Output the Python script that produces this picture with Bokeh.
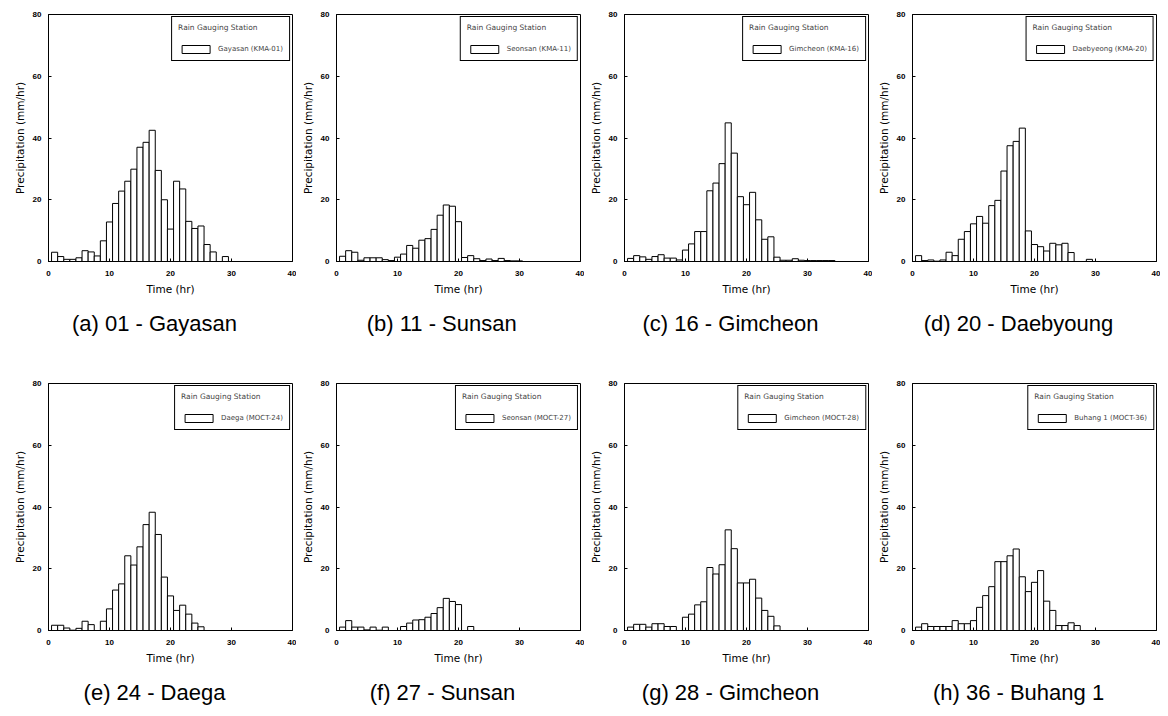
from bokeh.plotting import figure
from bokeh.models import Title, Range1d, FixedTicker
from bokeh.layouts import column, row
from bokeh.embed import file_html
from bokeh.resources import INLINE

# hourly precipitation (mm/hr), hours 1..N
gayasan_kma01 = [3.0, 1.6, 0.7, 0.7, 1.2, 3.5, 3.1, 1.8, 6.7, 12.8, 18.8, 22.8, 26.0, 29.9, 37.0, 38.6,
                 42.5, 29.5, 20.0, 10.5, 26.0, 23.5, 13.0, 10.7, 11.5, 5.5, 3.1, 0.0, 1.6]
seonsan_kma11 = [1.7, 3.5, 3.0, 0.4, 1.2, 1.2, 1.2, 0.6, 0.3, 1.4, 2.4, 5.2, 4.3, 6.9, 7.4, 10.4,
                 15.0, 18.3, 17.9, 12.9, 1.3, 1.9, 0.9, 0.3, 0.8, 0.3, 1.0, 0.3, 0.2, 0.2]
gimcheon_kma16 = [1.0, 1.9, 1.5, 0.7, 1.6, 2.2, 1.1, 1.1, 0.5, 3.7, 5.7, 9.7, 9.7, 22.9, 25.4, 31.7,
                  44.9, 35.1, 21.0, 18.4, 22.4, 13.5, 7.2, 8.0, 1.4, 0.4, 0.4, 0.9, 0.4, 0.3, 0.3,
                  0.3, 0.3, 0.3]
daebyeong_kma20 = [1.9, 0.3, 0.5, 0.1, 0.5, 3.0, 1.9, 7.2, 9.7, 12.2, 14.6, 12.4, 18.1, 19.8, 29.3,
                   37.5, 38.9, 43.2, 9.9, 5.5, 4.8, 3.4, 5.9, 5.4, 5.9, 2.9, 0.0, 0.0, 0.7]
daega_moct24 = [1.7, 1.7, 0.8, 0.1, 0.7, 3.0, 1.9, 0.0, 3.0, 7.0, 13.1, 15.1, 24.2, 21.2, 27.1, 34.3,
                38.3, 31.1, 17.3, 11.2, 6.5, 8.2, 5.3, 2.4, 1.2]
seonsan_moct27 = [1.1, 3.2, 1.1, 1.1, 0.2, 1.1, 0.1, 1.1, 0.0, 0.0, 1.3, 2.4, 3.4, 3.5, 4.3, 5.5,
                  7.4, 10.4, 9.4, 8.4, 0.0, 1.3]
gimcheon_moct28 = [1.1, 2.0, 2.0, 1.1, 2.2, 2.2, 1.3, 1.3, 0.0, 4.3, 5.3, 8.3, 9.3, 20.4, 18.3, 21.3,
                   32.6, 26.5, 15.4, 15.4, 16.6, 10.5, 6.5, 4.6, 1.5]
buhang1_moct36 = [1.1, 2.2, 1.3, 1.3, 1.3, 1.3, 3.2, 2.2, 2.2, 3.2, 7.5, 11.3, 14.2, 22.3, 22.3, 24.2,
                  26.4, 17.4, 12.6, 15.6, 19.4, 9.5, 6.5, 1.6, 1.6, 2.5, 1.6]

series = [gayasan_kma01, seonsan_kma11, gimcheon_kma16, daebyeong_kma20,
          daega_moct24, seonsan_moct27, gimcheon_moct28, buhang1_moct36]
stations = ["Gayasan (KMA-01)", "Seonsan (KMA-11)", "Gimcheon (KMA-16)", "Daebyeong (KMA-20)",
            "Daega (MOCT-24)", "Seonsan (MOCT-27)", "Gimcheon (MOCT-28)", "Buhang 1 (MOCT-36)"]
captions = ["(a) 01 - Gayasan", "(b) 11 - Sunsan", "(c) 16 - Gimcheon", "(d) 20 - Daebyoung",
            "(e) 24 - Daega", "(f) 27 - Sunsan", "(g) 28 - Gimcheon", "(h) 36 - Buhang 1"]
x_ticks = [0, 10, 20, 30, 40]
y_ticks = [0, 20, 40, 60, 80]

CAP_SIZE = 22
# approximate advance widths (em) of Liberation Sans, used only to centre the captions
_W = {" ": .278, "(": .333, ")": .333, "-": .333, "G": .778, "S": .667, "D": .722, "B": .667,
      "a": .556, "b": .556, "c": .5, "d": .556, "e": .556, "f": .278, "g": .556, "h": .556,
      "i": .222, "m": .833, "n": .556, "o": .556, "s": .5, "u": .556, "y": .5}


def text_width(s, size):
    return sum(_W.get(ch, .556) for ch in s) * size


def make_panel(vals, station, caption, left, top, bottom):
    hours = list(range(1, len(vals) + 1))
    p = figure(frame_width=244, frame_height=247, x_range=Range1d(0, 40), y_range=Range1d(0, 80),
               output_backend="svg", toolbar_location=None,
               min_border_left=left, min_border_right=4, min_border_top=top, min_border_bottom=bottom)
    p.vbar(x=hours, top=vals, bottom=0, width=1, fill_color="white", line_color="black",
           line_width=1, legend_label=station)
    p.xgrid.visible = False
    p.ygrid.visible = False
    p.outline_line_color = "black"
    p.outline_line_alpha = 1
    p.outline_line_width = 1
    p.xaxis.ticker = FixedTicker(ticks=x_ticks)
    p.yaxis.ticker = FixedTicker(ticks=y_ticks)
    for ax in (p.xaxis[0], p.yaxis[0]):
        ax.axis_line_color = "black"
        ax.major_tick_in = 3
        ax.major_tick_out = 0
        ax.minor_tick_line_color = None
        ax.major_label_text_font = "Liberation Sans"
        ax.major_label_text_font_size = "8px"
        ax.major_label_text_font_style = "bold"
        ax.major_label_text_color = "black"
        ax.axis_label_text_font = "DejaVu Sans"
        ax.axis_label_text_font_size = "10.5px"
        ax.axis_label_text_font_style = "normal"
        ax.axis_label_text_color = "black"
    p.xaxis.axis_label = "Time (hr)"
    p.yaxis.axis_label = "Precipitation (mm/hr)"
    p.xaxis.major_label_standoff = 9
    p.xaxis.axis_label_standoff = 4
    p.yaxis.major_label_standoff = 7
    p.yaxis.axis_label_standoff = 4

    lg = p.legend[0]
    lg.location = "top_right"
    lg.title = "Rain Gauging Station"
    lg.title_text_font = "DejaVu Sans"
    lg.title_text_font_size = "7.5px"
    lg.title_text_font_style = "normal"
    lg.title_standoff = 12
    lg.label_text_font = "DejaVu Sans"
    lg.label_text_font_size = "7px"
    lg.glyph_width = 35
    lg.glyph_height = 10
    lg.label_height = 10
    lg.label_standoff = 5
    lg.padding = 6
    lg.spacing = 0
    lg.margin = 2
    lg.border_line_color = "black"
    lg.border_line_width = 1
    lg.border_line_alpha = 1

    off = 106 - text_width(caption, CAP_SIZE) / 2
    t = Title(text=caption, align="left", offset=off, text_font="Liberation Sans",
              text_font_size=f"{CAP_SIZE}px", text_font_style="normal", text_color="black",
              standoff=22)
    p.add_layout(t, "below")
    return p


top_row = [make_panel(series[i], stations[i], captions[i], 48 if i == 0 else 40, 14, 116)
           for i in range(4)]
bot_row = [make_panel(series[i], stations[i], captions[i], 48 if i == 4 else 40, 6, 80)
           for i in range(4, 8)]
layout = column(row(*top_row), row(*bot_row))

open("out.html", "w").write(file_html(layout, INLINE))
